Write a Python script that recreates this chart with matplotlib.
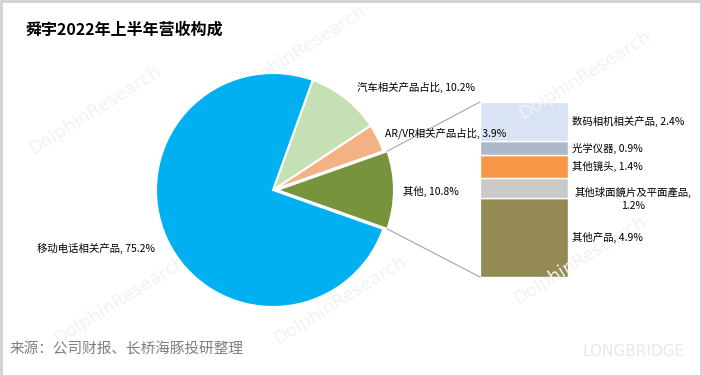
import numpy as np
import matplotlib
matplotlib.use("Agg")
import matplotlib.pyplot as plt

plt.rcParams['font.family'] = ['Noto Sans CJK SC', 'DejaVu Sans']

# data
pie_labels = ["其他", "AR/VR相关产品占比", "汽车相关产品占比", "移动电话相关产品"]
pie_values = [10.8, 3.9, 10.2, 75.2]
pie_colors = ["#77933C", "#F4B183", "#C5E0B4", "#00B0F0"]

bar_labels = ["其他产品", "其他球面鏡片及平面產品", "其他镜头", "光学仪器", "数码相机相关产品"]
bar_values = [4.9, 1.2, 1.4, 0.9, 2.4]
bar_colors = ["#948A54", "#C9C9C9", "#F79646", "#ADB9CA", "#DAE3F3"]

W, H = 701, 376
fig = plt.figure(figsize=(W / 100, H / 100), dpi=100, facecolor="white")

# bar of pie (drawn underneath the main axes so labels can overlap it)
bx0, bx1, btop, bbot = 480, 568, 102, 277
bax = fig.add_axes([bx0 / W, (H - bbot) / H, (bx1 - bx0) / W, (bbot - btop) / H])
bax.set_zorder(0)
bottom = 0
for lab, v, c in zip(bar_labels, bar_values, bar_colors):
    bax.bar(0, v, bottom=bottom, width=1, color=c, edgecolor="white", linewidth=1)
    bottom += v
bax.set_xlim(-0.5, 0.5)
bax.set_ylim(0, sum(bar_values))
bax.axis("off")

ax = fig.add_axes([0, 0, 1, 1])
ax.set_zorder(1)
ax.patch.set_visible(False)

def py(y):
    # pixel row -> data y
    return H - y

# pie
cx, cy, r = 273, py(190), 117
start = -pie_values[0] * 3.6 / 2
explode = [4, 0, 0, 0]
wedges, _ = ax.pie(pie_values, colors=pie_colors, startangle=start, counterclock=True,
                   center=(cx, cy), radius=r, explode=explode, frame=True,
                   wedgeprops=dict(edgecolor="white", linewidth=1.5))
ax.set_xlim(0, W)
ax.set_ylim(0, H)
ax.set_aspect("equal")
ax.axis("off")

# watermarks
for (wx, wy) in [(95, 110), (300, 50), (585, 75), (120, 300), (340, 300), (580, 260)]:
    ax.text(wx, py(wy), "DolphinResearch", rotation=32, fontsize=13, color="#f2f2f2",
            ha="center", va="center", family="DejaVu Sans", zorder=0.5)
ax.text(583, py(352), "LONGBRIDGE", fontsize=11, color="#e8e8e8", va="center",
        family="DejaVu Sans", zorder=0.5)

fs = 7.5
ax.text(357, py(87), f"{pie_labels[2]}, {pie_values[2]}%", fontsize=fs, va="center", zorder=5)
ax.text(385, py(133), f"{pie_labels[1]}, {pie_values[1]}%", fontsize=fs, va="center", zorder=5)
ax.text(403, py(191), f"{pie_labels[0]}, {pie_values[0]}%", fontsize=fs, va="center", zorder=5)
ax.text(37, py(248), f"{pie_labels[3]}, {pie_values[3]}%", fontsize=fs, va="center", zorder=5)

# bar labels
tx = 572
cum = np.cumsum([0] + bar_values)
for i, (lab, v) in enumerate(zip(bar_labels, bar_values)):
    mid = (cum[i] + cum[i + 1]) / 2
    ypix = bbot - mid / sum(bar_values) * (bbot - btop)
    if lab == "其他球面鏡片及平面產品":
        ax.text(633, py(ypix + 11), f"{lab},\n{v}%", fontsize=fs, ha="center", va="center",
                multialignment="center", linespacing=1.3)
    else:
        ax.text(tx, py(ypix), f"{lab}, {v}%", fontsize=fs, va="center")

# connector lines from the exploded slice to the bar
w = wedges[0]
wc = w.center
for ang, yb in [(w.theta2, btop), (w.theta1, bbot)]:
    ex = wc[0] + r * np.cos(np.radians(ang))
    ey = wc[1] + r * np.sin(np.radians(ang))
    ax.plot([ex, bx0], [ey, py(yb)], color="#A6A6A6", lw=0.8, zorder=3)

# title / source
ax.text(25, py(30), "舜宇2022年上半年营收构成", fontsize=11.5, fontweight="bold", va="center")
ax.text(10, py(349), "来源：公司财报、长桥海豚投研整理", fontsize=10.5, color="#7F7F7F", va="center")

# frame
ax.add_patch(plt.Rectangle((0.5, 0.5), W - 1, H - 1, fill=False, edgecolor="#D0D0D0", lw=2))

fig.savefig("out.png", dpi=100, facecolor="white")
